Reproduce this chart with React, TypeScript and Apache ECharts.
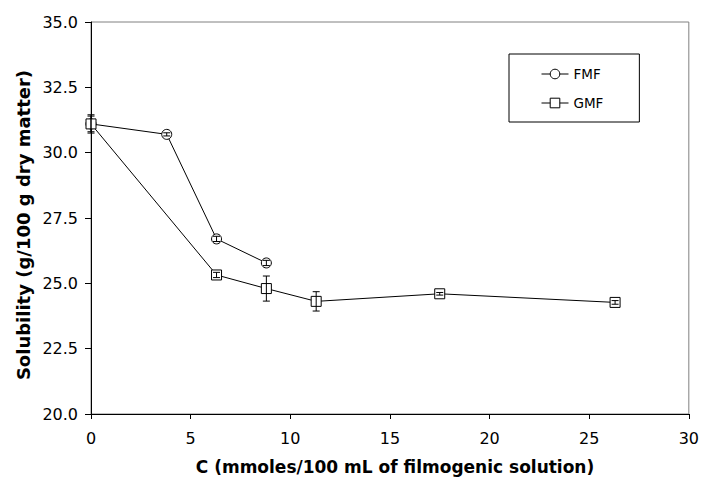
import React, { useEffect, useRef } from "react";
import * as echarts from "echarts";

const fmfX = [0, 3.8, 6.3, 8.8];
const fmfY = [31.1, 30.7, 26.7, 25.78];
const fmfErr = [0.3, 0.06, 0.1, 0.1];

const gmfX = [0, 6.3, 8.8, 11.3, 17.5, 26.3];
const gmfY = [31.1, 25.32, 24.8, 24.31, 24.6, 24.27];
const gmfErr = [0.35, 0.1, 0.48, 0.37, 0.05, 0.07];

const xTitle = "C (mmoles/100 mL of filmogenic solution)";
const yTitle = "Solubility (g/100 g dry matter)";

const FONT = "DejaVu Sans";

function errData(xs: number[], ys: number[], es: number[]) {
  return xs.map((x, i) => [x, ys[i], es[i]]);
}

function errorRender(params: any, api: any) {
  const x = api.value(0);
  const y = api.value(1);
  const e = api.value(2);
  const top = api.coord([x, y + e]);
  const bot = api.coord([x, y - e]);
  const hw = 3.5;
  const st = { stroke: "#000", lineWidth: 1 };
  return {
    type: "group",
    children: [
      { type: "line", shape: { x1: top[0], y1: top[1], x2: bot[0], y2: bot[1] }, style: st },
      { type: "line", shape: { x1: top[0] - hw, y1: top[1], x2: top[0] + hw, y2: top[1] }, style: st },
      { type: "line", shape: { x1: bot[0] - hw, y1: bot[1], x2: bot[0] + hw, y2: bot[1] }, style: st },
    ],
  };
}

export default function App() {
  const ref = useRef<HTMLDivElement>(null);
  useEffect(() => {
    if (!ref.current) return;
    const chart = echarts.init(ref.current, null, { renderer: "svg" });
    chart.setOption({
      animation: false,
      backgroundColor: "#fff",
      grid: {
        left: 91,
        right: 11,
        top: 22,
        bottom: 68,
        show: true,
        borderColor: "#808080",
        borderWidth: 1,
      },
      legend: {
        data: ["FMF", "GMF"],
        orient: "vertical",
        left: 509,
        top: 54,
        padding: [13, 36, 12, 32],
        itemGap: 15,
        itemWidth: 27,
        itemHeight: 12,
        borderColor: "#000",
        borderWidth: 1,
        itemStyle: { color: "#fff", borderColor: "#000", borderWidth: 1 },
        lineStyle: { color: "#000", width: 1 },
        textStyle: { fontFamily: FONT, fontSize: 13.5, color: "#000" },
      },
      xAxis: {
        type: "value",
        min: 0,
        max: 30,
        interval: 5,
        splitLine: { show: false },
        axisLine: { show: true, onZero: false, lineStyle: { color: "#000", width: 1 } },
        axisTick: { show: true, length: 5, lineStyle: { color: "#000" } },
        axisLabel: { margin: 16, fontFamily: FONT, fontSize: 16, color: "#000" },
      },
      yAxis: {
        type: "value",
        min: 20,
        max: 35,
        interval: 2.5,
        splitLine: { show: false },
        axisLine: { show: true, onZero: false, lineStyle: { color: "#000", width: 1 } },
        axisTick: { show: true, length: 6, lineStyle: { color: "#000" } },
        axisLabel: {
          margin: 13,
          fontFamily: FONT,
          fontSize: 16,
          color: "#000",
          formatter: (v: number) => v.toFixed(1),
        },
      },
      graphic: [
        {
          type: "text",
          x: 395,
          y: 467,
          style: {
            text: xTitle,
            fontFamily: FONT,
            fontWeight: "bold",
            fontSize: 17,
            fill: "#000",
            textAlign: "center",
            textVerticalAlign: "middle",
          },
        },
        {
          type: "text",
          x: 23,
          y: 225,
          rotation: Math.PI / 2,
          style: {
            text: yTitle,
            fontFamily: FONT,
            fontWeight: "bold",
            fontSize: 18,
            fill: "#000",
            textAlign: "center",
            textVerticalAlign: "middle",
          },
        },
      ],
      series: [
        {
          name: "FMF",
          type: "line",
          data: fmfX.map((x, i) => [x, fmfY[i]]),
          symbol: "circle",
          symbolSize: 10,
          lineStyle: { color: "#000", width: 1 },
          itemStyle: { color: "#fff", borderColor: "#000", borderWidth: 1 },
          z: 3,
        },
        {
          name: "GMF",
          type: "line",
          data: gmfX.map((x, i) => [x, gmfY[i]]),
          symbol: "rect",
          symbolSize: 10,
          lineStyle: { color: "#000", width: 1 },
          itemStyle: { color: "#fff", borderColor: "#000", borderWidth: 1 },
          z: 3,
        },
        {
          name: "FMF err",
          type: "custom",
          data: errData(fmfX, fmfY, fmfErr),
          renderItem: errorRender,
          z: 5,
          silent: true,
        },
        {
          name: "GMF err",
          type: "custom",
          data: errData(gmfX, gmfY, gmfErr),
          renderItem: errorRender,
          z: 5,
          silent: true,
        },
      ],
    });
    return () => chart.dispose();
  }, []);
  return (
    <div
      ref={ref}
      style={{ position: "fixed", left: 0, top: 0, width: 702, height: 482 }}
    />
  );
}
